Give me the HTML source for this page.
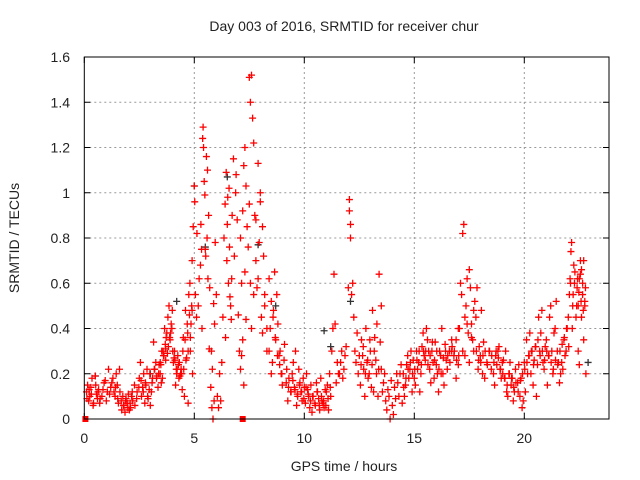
<!DOCTYPE html>
<html><head><meta charset="utf-8"><style>
html,body{margin:0;padding:0;background:#fff;}
svg{display:block;font-family:"Liberation Sans",sans-serif;}
</style></head><body>
<svg id="chart" width="640" height="480">
<text x="344" y="31" text-anchor="middle" font-size="14" fill="#222">Day 003 of 2016, SRMTID for receiver chur</text>
<text x="344" y="471" text-anchor="middle" font-size="14" fill="#222">GPS time / hours</text>
<text transform="translate(19,238) rotate(-90)" text-anchor="middle" font-size="14" fill="#222">SRMTID / TECUs</text>
<g id="grid"></g>
<g id="ticks"></g>
<g id="gray"></g>
<g id="red"></g>
<rect x="84.3" y="57" width="524.7" height="362" fill="none" stroke="#000" stroke-width="1"/>
</svg>
<script>
const xTicks=[0,5,10,15,20];
const yTicks=[0,0.2,0.4,0.6,0.8,1,1.2,1.4,1.6];
const yTickLabels=["0","0.2","0.4","0.6","0.8","1","1.2","1.4","1.6"];
const redTimes=[
0.1,0.15,0.2,0.25,0.3,0.35,0.4,0.5,0.55,0.6,
0.65,0.7,0.8,0.9,1.0,1.05,1.1,1.2,1.3,1.4,
1.45,1.5,1.55,1.6,1.7,1.8,1.9,2.0,2.1,2.2,
1.75,1.85,1.95,2.05,2.15,2.3,2.4,2.5,2.6,2.7,
2.8,2.9,3.0,2.55,2.65,2.75,2.85,2.95,3.05,3.1,
3.15,3.2,3.3,3.4,3.5,3.6,3.7,3.25,3.35,3.45,
3.65,3.75,3.8,3.9,4.0,4.1,4.2,4.3,4.4,4.5,
3.55,3.7,3.85,3.95,4.05,4.15,4.25,4.35,4.45,4.55,
4.6,4.7,4.75,4.8,4.85,4.9,4.95,5.0,5.05,5.1,
4.65,4.72,4.82,4.92,5.02,5.12,5.18,5.22,5.28,5.35,
5.38,5.4,5.42,5.45,5.5,5.52,5.55,5.6,5.65,5.7,
5.3,5.33,5.48,5.58,5.62,5.68,5.75,5.8,5.85,5.9,
5.78,5.82,5.88,5.92,5.95,6.0,6.05,6.1,6.15,6.2,
6.25,6.3,6.35,6.4,6.45,6.5,6.55,6.6,6.65,6.7,
6.42,6.48,6.52,6.58,6.62,6.68,6.72,6.78,6.82,6.88,
6.9,6.95,7.0,7.05,7.1,7.15,7.2,7.25,7.3,7.35,
7.1,7.15,7.2,7.25,7.3,7.35,7.4,7.45,7.5,7.55,
7.5,7.55,7.6,7.65,7.7,7.75,7.8,7.85,7.9,7.95,
7.6,7.7,7.8,7.9,8.0,8.05,8.1,8.15,8.2,8.3,
8.0,8.1,8.2,8.3,8.4,8.5,8.6,8.7,8.8,8.9,
8.4,8.5,8.55,8.65,8.75,8.85,8.95,9.0,9.1,9.2,
9.3,9.4,9.5,9.6,9.7,9.8,9.9,10.0,10.1,10.2,
9.25,9.45,9.55,9.65,9.75,9.85,9.95,10.05,10.15,10.25,
10.3,10.4,10.5,10.6,10.7,10.8,10.9,11.0,11.1,11.2,
10.35,10.55,10.65,10.75,10.85,10.95,11.05,11.15,11.25,11.3,
11.35,11.4,11.45,11.5,11.6,11.7,11.8,11.9,12.0,12.05,
12.05,12.1,12.1,12.15,12.2,12.25,12.3,12.35,12.4,12.5,
12.6,12.7,12.8,12.9,13.0,13.1,13.2,13.3,13.4,13.5,
12.55,12.65,12.75,12.85,12.95,13.05,13.15,13.25,13.35,13.45,
13.5,13.6,13.7,13.8,13.9,14.0,14.1,14.2,14.3,14.4,
13.55,13.65,13.75,13.85,13.95,14.05,14.15,14.25,14.35,14.45,
14.5,14.6,14.7,14.8,14.9,15.0,15.1,15.2,15.3,15.4,
14.55,14.65,14.75,14.85,14.95,15.05,15.15,15.25,15.35,15.45,
15.5,15.6,15.7,15.8,15.9,16.0,16.1,16.2,16.3,16.4,
15.55,15.65,15.75,15.85,15.95,16.05,16.15,16.25,16.35,16.45,
16.5,16.6,16.7,16.8,16.9,17.0,17.05,17.1,17.15,17.2,
17.25,17.3,17.35,17.4,17.45,17.5,17.55,17.6,17.65,17.7,
17.2,17.3,17.4,17.5,17.6,17.7,17.8,17.9,18.0,18.1,
17.75,17.85,17.95,18.05,18.15,18.2,18.3,18.4,18.5,18.6,
18.7,18.8,18.9,19.0,19.1,19.2,19.3,19.4,19.5,19.6,
18.65,18.75,18.85,18.95,19.05,19.15,19.25,19.35,19.45,19.55,
19.7,19.8,19.9,20.0,20.1,20.2,20.3,20.4,20.5,20.6,
19.75,19.85,19.95,20.05,20.15,20.25,20.35,20.45,20.55,20.65,
20.7,20.8,20.9,21.0,21.1,21.2,21.3,21.4,21.5,21.6,
20.75,20.85,20.95,21.05,21.15,21.25,21.35,21.45,21.55,21.65,
21.7,21.8,21.9,22.0,22.05,22.1,22.15,22.2,22.3,22.4,
21.75,21.85,21.95,22.02,22.08,22.12,22.18,22.25,22.35,22.45,
22.5,22.55,22.6,22.65,22.7,22.75,22.8,22.5,22.6,22.7,
0.12,0.22,0.32,0.42,0.52,0.62,0.72,0.85,0.95,1.15,
1.25,1.35,1.42,1.52,1.62,1.68,1.78,1.88,1.98,2.08,
2.18,2.28,2.38,2.48,2.58,2.68,2.78,2.88,2.98,3.08,
3.18,3.28,3.38,3.48,3.58,3.68,3.78,3.88,3.98,4.08,
4.18,4.28,4.38,4.48,4.58,4.68,4.78,4.88,8.45,8.58,
8.68,8.78,8.88,8.98,9.08,9.18,9.28,9.38,9.48,9.58,
9.68,9.78,9.88,9.98,10.08,10.18,10.28,10.38,10.48,10.58,
10.68,10.78,10.88,10.98,11.08,11.18,11.55,11.65,11.75,11.85,
12.45,12.58,12.68,12.78,12.88,12.98,13.08,13.18,13.28,13.38,
14.52,14.62,14.72,14.82,14.92,15.02,15.12,15.22,15.32,15.42,
15.52,15.62,15.72,15.82,15.92,16.02,16.12,16.22,16.32,16.42,
16.52,16.62,16.72,16.82,16.92,17.02,17.82,17.92,18.02,18.12,
18.22,18.32,18.42,18.52,18.62,18.72,18.82,18.92,19.02,19.12,
19.22,19.32,19.42,19.52,19.62,19.72,19.82,19.92,20.02,20.12,
20.22,20.32,20.42,20.52,20.62,20.72,20.82,20.92,21.02,21.12,
21.22,21.32,21.42,21.52,21.62,21.72,21.82,21.92,22.22,22.28,
22.38,22.42,22.48,22.58,22.68,22.78,22.55,22.65,22.75,22.45,
3.45,3.52,3.62,3.72,3.82,3.92,4.02,4.12,4.22,4.32,
4.42,4.52,4.62,4.72,4.82,4.9,16.9,17.0,16.7,16.6];
const redValues=[
.12,.15,.08,.1,.14,.18,.06,.19,.11,.09,
.13,.07,.1,.16,.08,.12,.22,.14,.18,.1,
.2,.15,.07,.22,.04,.06,.09,.11,.05,.08,
.1,.03,.07,.04,.1,.06,.12,.18,.1,.2,
.15,.09,.06,.25,.14,.07,.22,.13,.12,.18,
.34,.22,.19,.24,.16,.28,.31,.25,.14,.2,
.4,.38,.45,.35,.48,.3,.2,.18,.22,.36,
.18,.26,.5,.42,.25,.15,.28,.19,.13,.1,
.48,.38,.55,.6,.42,.7,.85,1.03,.55,.45,
.27,.07,.3,.2,.96,.82,.5,.62,.68,.4,
1.24,1.29,1.2,1.05,.75,.72,1.16,1.1,.9,.58,
.86,.75,.99,.8,.62,.31,.14,.05,0,.08,
.3,.22,.51,.42,.78,.55,.1,.05,.2,.08,
.25,.45,.8,.95,1.09,.86,.6,.76,.5,.62,
.36,.7,.98,1.02,.54,.44,.9,1.15,.72,1.0,
1.08,.88,.46,.3,.22,.6,.35,.15,.65,.44,
.8,.28,.92,1.12,1.2,1.03,.85,.76,1.51,1.4,
.95,.6,1.52,1.33,1.22,.9,.7,.58,1.13,.78,
.4,.55,.88,.62,1.0,.45,.38,.72,.5,.3,
.96,.85,.55,.4,.62,.52,.48,.35,.42,.3,
.3,.2,.25,.65,.55,.28,.2,.15,.33,.22,
.18,.12,.25,.3,.1,.16,.08,.14,.2,.1,
.08,.2,.14,.06,.22,.12,.18,.07,.13,.05,
.15,.1,.06,.12,.04,.08,.05,.12,.04,.1,
.03,.16,.09,.18,.07,.13,.15,.2,.3,.4,
.64,.42,.16,.25,.2,.3,.22,.32,.58,.97,
.92,.86,.8,.55,.6,.45,.3,.25,.38,.28,
.35,.22,.4,.18,.3,.48,.36,.42,.64,.5,
.15,.28,.1,.25,.2,.14,.12,.26,.1,.34,
.22,.16,.08,.13,0,.06,.14,.2,.1,.24,
.12,.2,.04,.1,.17,.02,.09,.16,.2,.07,
.2,.15,.28,.22,.12,.18,.3,.25,.2,.38,
.1,.24,.18,.3,.26,.15,.22,.12,.32,.28,
.26,.35,.22,.3,.18,.24,.12,.28,.2,.33,
.4,.3,.16,.25,.34,.2,.3,.4,.15,.26,
.22,.3,.35,.28,.18,.24,.4,.6,.55,.82,
.86,.45,.5,.62,.38,.66,.58,.42,.35,.48,
.3,.28,.42,.25,.36,.3,.45,.22,.28,.2,
.52,.58,.32,.48,.34,.18,.25,.3,.22,.2,
.28,.3,.22,.25,.18,.12,.2,.15,.08,.22,
.15,.24,.32,.18,.26,.3,.1,.25,.18,.12,
.16,.1,.05,.25,.35,.28,.2,.15,.32,.24,
.24,.18,.08,.12,.2,.38,.3,.26,.1,.45,
.3,.48,.22,.35,.28,.5,.2,.4,.3,.16,
.38,.25,.32,.15,.45,.3,.38,.52,.25,.2,
.25,.35,.3,.45,.55,.6,.78,.5,.65,.58,
.22,.28,.4,.32,.62,.74,.4,.68,.45,.3,
.62,.7,.45,.55,.35,.5,.2,.24,.66,.7,
.09,.13,.11,.07,.15,.12,.09,.13,.17,.11,
.16,.12,.14,.09,.12,.08,.06,.08,.05,.07,
.12,.15,.09,.14,.17,.12,.16,.1,.2,.16,
.22,.18,.2,.24,.3,.33,.29,.36,.4,.27,
.22,.24,.2,.3,.35,.42,.46,.5,.4,.45,
.36,.28,.24,.2,.26,.16,.14,.12,.17,.13,
.11,.15,.12,.09,.14,.11,.08,.1,.07,.12,
.06,.1,.08,.06,.09,.14,.2,.25,.18,.28,
.2,.24,.32,.2,.26,.35,.24,.3,.2,.22,
.14,.18,.22,.25,.2,.22,.26,.3,.24,.3,
.3,.24,.28,.34,.26,.3,.22,.2,.27,.3,
.28,.25,.32,.3,.26,.28,.3,.26,.25,.28,
.3,.24,.3,.28,.25,.3,.27,.22,.2,.18,
.15,.2,.18,.14,.16,.12,.17,.2,.22,.25,
.28,.3,.24,.32,.35,.28,.3,.26,.3,.28,
.25,.22,.26,.24,.3,.33,.36,.4,.55,.6,
.5,.62,.56,.52,.48,.58,.64,.6,.52,.5,
.25,.3,.28,.36,.32,.38,.3,.26,.22,.25,
.2,.22,.26,.3,.36,.48,.35,.4,.3,.3];
const grayTimes=[5.0,5.5,6.5,7.9,10.9,12.1,4.2,8.7,11.2,22.9,0.5,3.0];
const grayValues=[1.03,0.76,1.07,0.77,0.39,0.52,0.52,0.5,0.32,0.25,0.19,0.2];
const squareTimes=[0.05,7.2];
const squareValues=[0,0];

const X0=84.3,PXH=22,Y0=419,PXU=226.25,XR=609;
const xs=t=>X0+t*PXH;
const ys=v=>Y0-v*PXU;
const NS="http://www.w3.org/2000/svg";
function mk(tag,attrs,parent){const e=document.createElementNS(NS,tag);for(const k in attrs)e.setAttribute(k,attrs[k]);parent.appendChild(e);return e;}
const grid=document.getElementById('grid'),ticks=document.getElementById('ticks');
xTicks.forEach(t=>{
  const x=xs(t);
  if(t>0){
    const g=mk('line',{x1:x,x2:x,y1:57,y2:419,stroke:'#999','stroke-dasharray':'2,3'},grid);
    
    
  }
  const a=mk('line',{x1:x,x2:x,y1:419,y2:413,stroke:'#000'},ticks);
  
  
  const b=mk('line',{x1:x,x2:x,y1:57,y2:63,stroke:'#000'},ticks);
  
  
  const l=mk('text',{x:x,y:443,'text-anchor':'middle','font-size':14,fill:'#222'},ticks);
  l.textContent=String(t);
  
  
});
yTicks.forEach((v,i)=>{
  const y=ys(v);
  if(v>0&&v<1.6){
    const g=mk('line',{x1:X0,x2:XR,y1:y,y2:y,stroke:'#999','stroke-dasharray':'2,3'},grid);
    
    
  }
  const a=mk('line',{x1:X0,x2:X0+6,y1:y,y2:y,stroke:'#000'},ticks);
  
  
  const b=mk('line',{x1:XR-6,x2:XR,y1:y,y2:y,stroke:'#000'},ticks);
  
  
  const l=mk('text',{x:70,y:y+5,'text-anchor':'end','font-size':14,fill:'#222'},ticks);
  l.textContent=yTickLabels[i];
  
  
});
function plus(g,t,v,color,name){
  const x=xs(t),y=ys(v);
  const p=mk('path',{d:`M${x-3.5},${y}H${x+3.5}M${x},${y-3.5}V${y+3.5}`,stroke:color,'stroke-width':1.3,fill:'none'},g);
  
  
}
const gray=document.getElementById('gray'),red=document.getElementById('red');
grayTimes.forEach((t,i)=>plus(gray,t,grayValues[i],'#333','gray-point'));
redTimes.forEach((t,i)=>plus(red,t,redValues[i],'#ff0000','red-point'));
squareTimes.forEach((t,i)=>{
  const r=mk('rect',{x:xs(t)-3,y:ys(squareValues[i])-3,width:6,height:6,fill:'#ff0000'},red);
  
  
});
</script>
</body></html>
